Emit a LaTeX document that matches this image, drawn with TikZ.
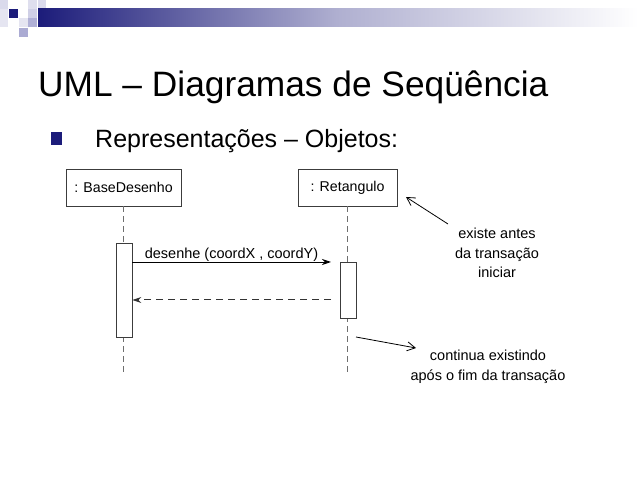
\documentclass[tikz,border=0pt]{standalone}
\usepackage{fontspec}
\setmainfont{Liberation Sans}
\usetikzlibrary{arrows.meta}
\definecolor{navy}{RGB}{28,28,122}
\definecolor{lav}{RGB}{150,150,200}
\definecolor{linegray}{RGB}{60,60,60}
\definecolor{dashgray}{RGB}{110,110,110}
\tikzset{
  objbox/.style={draw=linegray, line width=0.8pt, fill=white, minimum height=37pt, inner sep=0pt, font=\fontsize{14.2}{16}\selectfont},
  actbox/.style={draw=linegray, line width=0.8pt, fill=white, minimum width=16pt, inner sep=0pt},
  lifeline/.style={draw=dashgray, line width=1pt, dash pattern=on 6pt off 4pt},
  msg/.style={draw=black, line width=0.8pt, -{Stealth[length=9pt,width=6pt]}},
  retmsg/.style={draw=black!80, line width=1pt, dash pattern=on 7pt off 5pt, -{Stealth[length=9pt,width=6pt]}},
  note/.style={font=\fontsize{14.5}{19.5}\selectfont, align=center, inner sep=0pt},
  notearrow/.style={draw=black, line width=0.8pt, -{Straight Barb[length=8pt,width=9pt]}},
  sq/.style={draw=none}
}
\begin{document}
\begin{tikzpicture}[x=1pt,y=-1pt]
\useasboundingbox (0,0) rectangle (638,478);
% header decoration
\fill[lav!35] (0,0) rectangle (8,9);
\fill[lav!25] (0,9) rectangle (8,27);
\fill[navy] (9,9) rectangle (18,18);
\fill[lav!30] (28,0) rectangle (37,9);
\fill[lav!35] (38,0) rectangle (46,9);
\fill[lav!45] (28,9) rectangle (37,18);
\fill[lav!25] (19,18) rectangle (28,27);
\fill[lav!75] (28,18) rectangle (37,27);
\fill[lav!80] (19,28) rectangle (28,37);
\shade[left color=navy, right color=white, middle color=navy!35] (38,9) rectangle (638,27);
% title
\node[anchor=base west, inner sep=0pt, font=\fontsize{35.3}{40}\selectfont] (title) at (38,97) {UML – Diagramas de Seqüência};
% bullet
\fill[navy] (51,132) rectangle (62,145);
\node[anchor=base west, inner sep=0pt, font=\fontsize{25}{30}\selectfont] (bullet) at (95,148) {Representações – Objetos:};
% objects
\node[objbox, minimum width=115pt] (base) at (123.5,187.5) {: BaseDesenho};
\node[objbox, minimum width=99pt] (ret) at (347.5,187.5) {: Retangulo};
\coordinate (baseend) at (124,376);
\coordinate (retend) at (348,376);
\draw[lifeline] (base.south) -- (base.south |- baseend);
\draw[lifeline] (ret.south) -- (ret.south |- retend);
% activations
\node[actbox, minimum height=94pt] (act1) at (124,290) {};
\node[actbox, minimum height=56pt] (act2) at (348,290) {};
% messages
\coordinate (m1end) at (331,262);
\coordinate (r1start) at (331,300);
\draw[msg] (act1.east |- m1end) -- (m1end);
\node[font=\fontsize{14.5}{16}\selectfont, anchor=base, inner sep=0pt] (m1label) at (231.5,259) {desenhe (coordX , coordY)};
\draw[retmsg] (r1start) -- (act1.east |- r1start);
% notes
\node[note] (note1) at (497,253) {existe antes\\da transação\\iniciar};
\node[note] (note2) at (488,367) {continua existindo\\após o fim da transação};
\coordinate (n1from) at (448,224);
\coordinate (n1to) at (406,197);
\coordinate (n2from) at (356,337);
\coordinate (n2to) at (416,348);
\draw[notearrow] (n1from) -- (n1to);
\draw[notearrow] (n2from) -- (n2to);
\end{tikzpicture}
\end{document}
